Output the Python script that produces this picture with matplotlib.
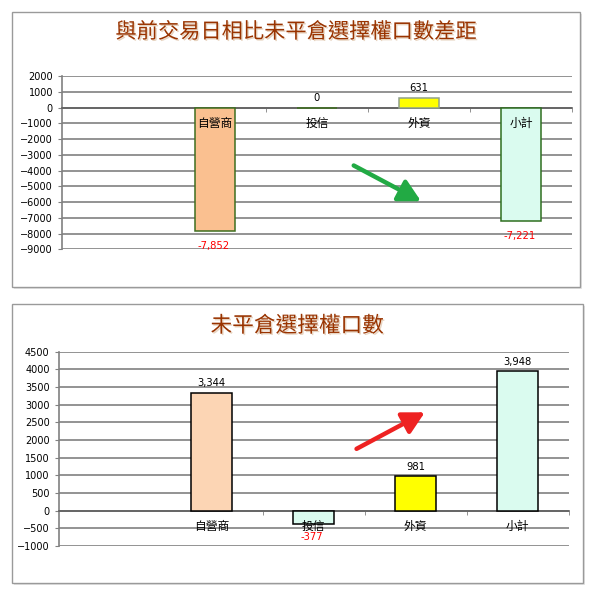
import numpy as np
import matplotlib
matplotlib.use('Agg')
import matplotlib.pyplot as plt
import matplotlib.patheffects as pe
from matplotlib.patches import Rectangle

plt.rcParams['font.family'] = ['DejaVu Sans', 'Noto Sans CJK TC']

# data
categories = ['', '自營商', '投信', '外資', '小計']
diff_values = [np.nan, -7852, 0, 631, -7221]
oi_values = [np.nan, 3344, -377, 981, 3948]
diff_title = '與前交易日相比未平倉選擇權口數差距'
oi_title = '未平倉選擇權口數'
diff_yticks = list(range(-9000, 2001, 1000))
oi_yticks = list(range(-1000, 4501, 500))

diff_colors = ['none', '#FAC090', '#DAFBEF', '#FFFF00', '#DAFBEF']
diff_edges = ['none', '#3F6F1F', '#3F6F1F', '#8FA08A', '#2F6F1F']
oi_colors = ['none', '#FCD5B4', '#DAFBEF', '#FFFF00', '#DAFBEF']

cjk = ['Noto Sans CJK TC', 'DejaVu Sans']
W = H = 600.0

fig = plt.figure(figsize=(6, 6), dpi=100)


def panel_box(x0, y0, x1, y1):
    # little shadow then grey frame, pixel coords from top-left
    fig.patches.append(Rectangle((x0 / W + 0.003, 1 - y1 / H - 0.003), (x1 - x0) / W, (y1 - y0) / H,
                                 transform=fig.transFigure, facecolor='#e4e4e4', edgecolor='none', zorder=-3))
    fig.patches.append(Rectangle((x0 / W, 1 - y1 / H), (x1 - x0) / W, (y1 - y0) / H,
                                 transform=fig.transFigure, facecolor='white', edgecolor='#9a9a9a',
                                 lw=1.0, zorder=-2))


def draw_panel(ax, values, colors, edges, yticks, above_pt, below_pt):
    x = np.arange(len(categories))
    ax.bar(x, values, width=0.4, color=colors, edgecolor=edges, linewidth=1.1, zorder=3)
    ax.set_xlim(-0.5, len(categories) - 0.5)
    ax.set_ylim(yticks[0], yticks[-1])
    ax.set_yticks(yticks)
    ax.yaxis.grid(True, color='#808080', lw=1.2)
    ax.set_axisbelow(True)
    ax.patch.set_alpha(0)
    for s in ['top', 'right']:
        ax.spines[s].set_visible(False)
    ax.spines['left'].set_color('#808080')
    ax.spines['left'].set_linewidth(1.2)
    ax.spines['bottom'].set_position(('data', 0))
    ax.spines['bottom'].set_color('#606060')
    ax.spines['bottom'].set_linewidth(1.2)
    ax.set_xticks([])
    ax.set_xticks(x[1:] + 0.5, minor=True)
    ax.tick_params(axis='x', which='minor', length=3, color='#808080', direction='out')
    ax.tick_params(axis='y', length=3, color='#808080', labelsize=7)
    # category names sit on top of the bars, just under the zero line
    for xi, name in zip(x, categories):
        ax.annotate(name, (xi, 0), xytext=(0, -11.5), textcoords='offset points',
                    ha='center', va='center', family=cjk, fontsize=8.5, zorder=6)
    for xi, v in zip(x, values):
        if np.isnan(v):
            continue
        if v < 0:
            ax.annotate(f'{v:,.0f}', (xi, v), xytext=(-1, -below_pt), textcoords='offset points',
                        ha='center', va='top', fontsize=7.2, color='#FF0000', zorder=6)
        else:
            ax.annotate(f'{v:,.0f}', (xi, v), xytext=(0, above_pt), textcoords='offset points',
                        ha='center', va='bottom', fontsize=7.2, color='black', zorder=6)


arrow_style = '-|>,head_length=0.6,head_width=0.32'

# top panel
panel_box(12, 12, 580, 287)
ax1 = fig.add_axes([62 / W, 1 - 249.3 / H, 510 / W, 173.3 / H])
draw_panel(ax1, diff_values, diff_colors, diff_edges, diff_yticks, 3, 7)
fig.text(296 / W, 1 - 32 / H, diff_title, family=cjk, fontsize=15.3, color='#993300',
         ha='center', va='center',
         path_effects=[pe.withSimplePatchShadow(offset=(1, -1), shadow_rgbFace='#d8b898', alpha=0.6)])
ax1.annotate('', xy=(3.02, -5950), xytext=(2.36, -3680),
             arrowprops=dict(arrowstyle=arrow_style, color='#22AA44', lw=3.2, mutation_scale=22,
                             shrinkA=0, shrinkB=0), zorder=5)

# bottom panel
panel_box(12, 304, 583, 583)
ax2 = fig.add_axes([58.7 / W, 1 - 546 / H, 510 / W, 194.3 / H])
draw_panel(ax2, oi_values, oi_colors, ['none', 'black', 'black', 'black', 'black'], oi_yticks, 3, 6)
fig.text(297 / W, 1 - 326 / H, oi_title, family=cjk, fontsize=15.6, color='#993300',
         ha='center', va='center',
         path_effects=[pe.withSimplePatchShadow(offset=(1, -1), shadow_rgbFace='#d8b898', alpha=0.6)])
ax2.annotate('', xy=(3.09, 2785), xytext=(2.42, 1750),
             arrowprops=dict(arrowstyle=arrow_style, color='#EE2222', lw=3.2, mutation_scale=22,
                             shrinkA=0, shrinkB=0), zorder=5)

fig.savefig('out.png', dpi=100)
